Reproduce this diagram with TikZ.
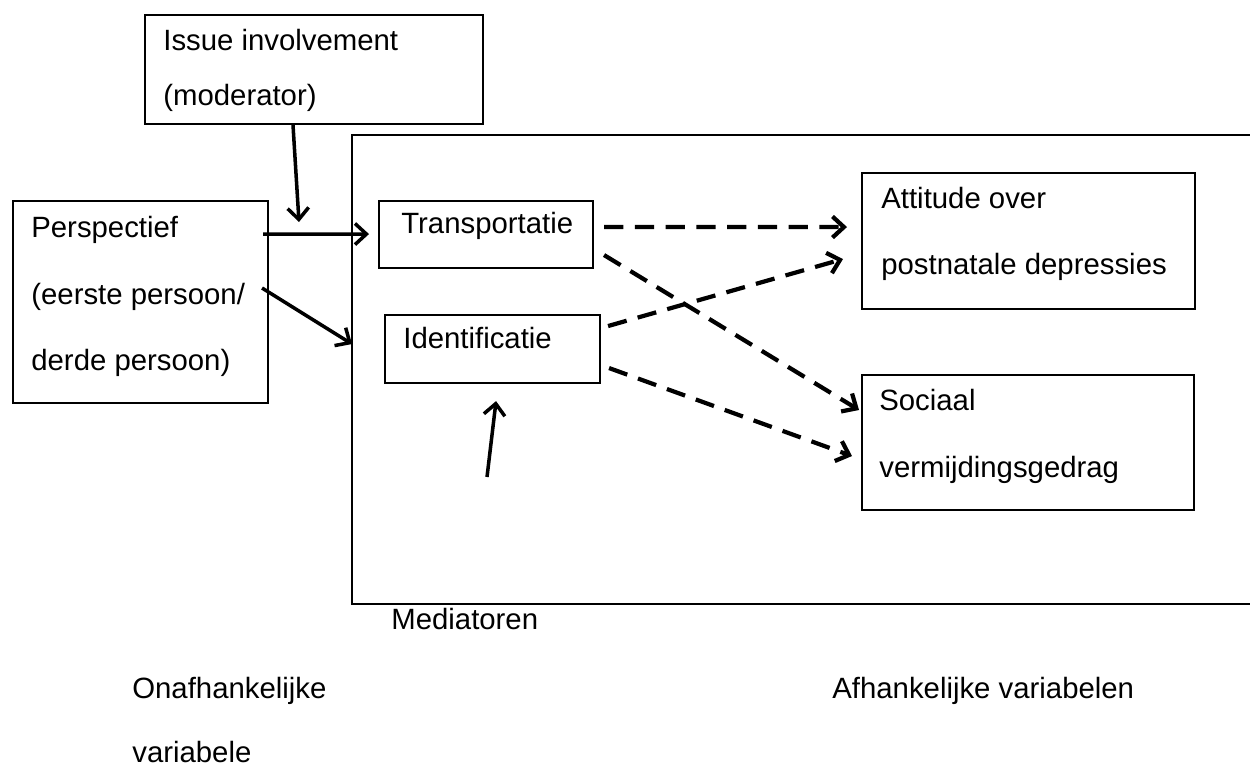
\documentclass[tikz,border=0pt]{standalone}
\usepackage{fontspec}
\setmainfont{Liberation Sans}
\usetikzlibrary{arrows.meta,calc}
\begin{document}
\begin{tikzpicture}[x=0.02cm,y=-0.02cm,
  box/.style={draw,line width=1.2pt,inner sep=0pt,anchor=north west,rectangle},
  txt/.style={anchor=base west,inner sep=0pt,font=\fontsize{16.7}{20}\selectfont},
  solidarrow/.style={line width=2pt,-{Straight Barb[length=6.5pt,width=12pt]}},
  dasharrow/.style={line width=2.4pt,dash pattern=on 11pt off 6.5pt,-{Straight Barb[length=6.5pt,width=12pt]}}]
\useasboundingbox (0,0) rectangle (1250,767);
% frame of mediators
\node[box,minimum width=18.3cm,minimum height=9.38cm] (med) at (351,134) {};
% boxes
\node[box,minimum width=6.76cm,minimum height=2.18cm] (issue) at (144,14) {};
\node[box,minimum width=5.10cm,minimum height=4.04cm] (persp) at (12,200) {};
\node[box,minimum width=4.28cm,minimum height=1.34cm] (trans) at (378,200) {};
\node[box,minimum width=4.30cm,minimum height=1.36cm] (ident) at (384,314) {};
\node[box,minimum width=6.66cm,minimum height=2.72cm] (att) at (861,172) {};
\node[box,minimum width=6.64cm,minimum height=2.70cm] (soc) at (861,374) {};
% texts
\node[txt] (t1) at (163,51) {Issue involvement};
\node[txt] (t2) at (163,106) {(moderator)};
\node[txt] (t3) at (31,237) {Perspectief};
\node[txt] (t4) at (31,304) {(eerste persoon/};
\node[txt] (t5) at (31,370) {derde persoon)};
\node[txt] (t6) at (401,233) {Transportatie};
\node[txt] (t7) at (403,348) {Identificatie};
\node[txt] (t8) at (881,208) {Attitude over};
\node[txt] (t9) at (881,274) {postnatale depressies};
\node[txt] (t10) at (879,410) {Sociaal};
\node[txt] (t11) at (879,477) {vermijdingsgedrag};
\node[txt] (t12) at (391,629) {Mediatoren};
\node[txt] (t13) at (132,698) {Onafhankelijke};
\node[txt] (t14) at (132,762) {variabele};
\node[txt] (t15) at (832,698) {Afhankelijke variabelen};
% free ends
\coordinate (modend) at (299,222);
\coordinate (upbase) at (487,477);
% solid arrows
\draw[solidarrow] ($(issue.south west)+(149,0)$) -- (modend);
\draw[solidarrow] ($(persp.east)+(-6,-68)$) -- ($(trans.west)+(-9,-0.5)$);
\draw[solidarrow] ($(persp.east)+(-7,-14)$) -- ($(ident.west)+(-32,-5)$);
\draw[solidarrow] (upbase) -- ($(ident.south)+(3.5,17)$);
% dashed arrows
\draw[dasharrow] ($(trans.east)+(10,-7.5)$) -- ($(att.west)+(-14,-14)$);
\draw[dasharrow] ($(trans.east)+(10,20.5)$) -- ($(soc.north west)+(-2,36)$);
\draw[dasharrow] ($(ident.east)+(7,-23)$) -- ($(att.west)+(-18,18)$);
\draw[dasharrow] ($(ident.east)+(8,19)$) -- ($(soc.west)+(-9,13.5)$);
\end{tikzpicture}
\end{document}
